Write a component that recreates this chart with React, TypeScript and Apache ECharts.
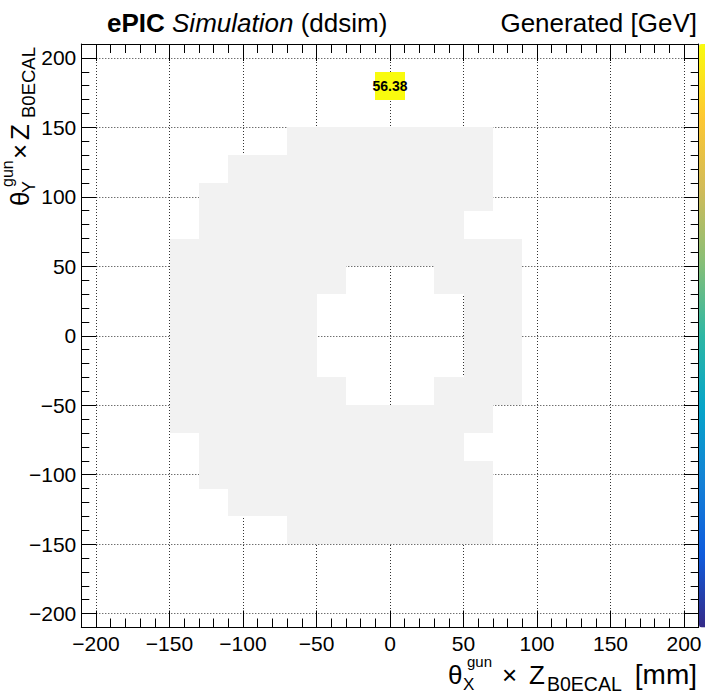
import { useEffect, useRef } from "react";
import * as echarts from "echarts";

// ---------- data ----------
const AXIS_MIN = -210;
const AXIS_MAX = 210;
const BIN_WIDTH = 20;

const majorTicks = [-200, -150, -100, -50, 0, 50, 100, 150, 200];
const minorTicks = [
  -190, -180, -170, -160, -140, -130, -120, -110, -90, -80, -70, -60, -40, -30, -20, -10,
  10, 20, 30, 40, 60, 70, 80, 90, 110, 120, 130, 140, 160, 170, 180, 190,
];

// grey (filled) bins: row centre (y) and the x centres of the filled bins in that row
const rowCenters = [140, 120, 100, 80, 60, 40, 20, 0, -20, -40, -60, -80, -100, -120, -140];
const rowCells = [
  [-60, -40, -20, 0, 20, 40, 60],
  [-100, -80, -60, -40, -20, 0, 20, 40, 60],
  [-120, -100, -80, -60, -40, -20, 0, 20, 40, 60],
  [-120, -100, -80, -60, -40, -20, 0, 20, 40],
  [-140, -120, -100, -80, -60, -40, -20, 0, 20, 40, 60, 80],
  [-140, -120, -100, -80, -60, -40, 40, 60, 80],
  [-140, -120, -100, -80, -60, 60, 80],
  [-140, -120, -100, -80, -60, 60, 80],
  [-140, -120, -100, -80, -60, 60, 80],
  [-140, -120, -100, -80, -60, -40, 40, 60, 80],
  [-140, -120, -100, -80, -60, -40, -20, 0, 20, 40, 60],
  [-120, -100, -80, -60, -40, -20, 0, 20, 40],
  [-120, -100, -80, -60, -40, -20, 0, 20, 40, 60],
  [-100, -80, -60, -40, -20, 0, 20, 40, 60],
  [-60, -40, -20, 0, 20, 40, 60],
];

// the single coloured bin [x, y, energy]
const peakX = [0];
const peakY = [180];
const peakValue = [56.38];

const paletteColors = [
  "#352a87", "#0f5cdd", "#1481d6", "#06a4ca", "#2eb7a4",
  "#87bf77", "#d1bb59", "#fec832", "#f9fb0e",
];

const FONT = '"Liberation Sans", Arial, Helvetica, sans-serif';

function minusFmt(v: number) {
  return String(v).replace("-", "\u2212");
}

function txt(text: string, x: number, baseline: number, size: number, extra: any = {}) {
  return {
    type: "text",
    x,
    y: baseline - 0.33 * size,
    silent: true,
    style: {
      text,
      fontSize: size,
      fontFamily: FONT,
      fill: "#000",
      align: extra.align || "left",
      verticalAlign: "middle",
      fontWeight: extra.fontWeight || "normal",
      fontStyle: extra.fontStyle || "normal",
    },
  };
}

export default function App() {
  const ref = useRef<HTMLDivElement>(null);

  useEffect(() => {
    const chart = echarts.init(ref.current!, null, { renderer: "svg" });

    const greyData: number[][] = [];
    rowCenters.forEach((y, i) => {
      rowCells[i].forEach((x) => greyData.push([x, y]));
    });
    const peakData = peakX.map((x, i) => [x, peakY[i], peakValue[i]]);

    const cellRect = (api: any) => {
      const x = api.value(0);
      const y = api.value(1);
      const p1 = api.coord([x - BIN_WIDTH / 2, y + BIN_WIDTH / 2]);
      const p2 = api.coord([x + BIN_WIDTH / 2, y - BIN_WIDTH / 2]);
      const x0 = Math.round(p1[0]);
      const y0 = Math.round(p1[1]);
      return { x: x0, y: y0, width: Math.round(p2[0]) - x0, height: Math.round(p2[1]) - y0 };
    };

    const axisCommon = {
      type: "value",
      min: AXIS_MIN,
      max: AXIS_MAX,
      axisLine: { show: true, onZero: false, lineStyle: { color: "#000", width: 1 } },
      splitLine: { show: false },
      axisLabel: { show: false },
      minorTick: { show: false },
      minorSplitLine: { show: false },
    };

    const majorAxis = (position: string, labels: boolean, tickLen: number, margin: number) => ({
      ...axisCommon,
      position,
      axisTick: {
        show: true,
        inside: true,
        length: tickLen,
        customValues: majorTicks,
        lineStyle: { color: "#000", width: 1 },
      },
      axisLabel: labels
        ? {
            show: true,
            customValues: majorTicks,
            formatter: minusFmt,
            fontSize: 21,
            fontFamily: FONT,
            color: "#000",
            margin,
          }
        : { show: false },
      splitLine: labels
        ? { show: true, lineStyle: { color: "#333", width: 1, type: [1, 2] } }
        : { show: false },
    });

    const minorAxis = (position: string, tickLen: number) => ({
      ...axisCommon,
      position,
      axisLine: { show: false, onZero: false },
      axisTick: {
        show: true,
        inside: true,
        length: tickLen,
        customValues: minorTicks,
        lineStyle: { color: "#000", width: 1 },
      },
    });

    const option: any = {
      animation: false,
      backgroundColor: "#fff",
      grid: { left: 81.3, right: 6.3, top: 44, bottom: 66.5, containLabel: false },
      xAxis: [
        majorAxis("bottom", true, 17, 5),
        minorAxis("bottom", 9),
        majorAxis("top", false, 17, 0),
        minorAxis("top", 9),
      ],
      yAxis: [
        majorAxis("left", true, 15, 5),
        minorAxis("left", 8),
        majorAxis("right", false, 15, 0),
        minorAxis("right", 8),
      ],
      visualMap: {
        type: "continuous",
        min: 0,
        max: peakValue[0],
        dimension: 2,
        seriesIndex: 1,
        calculable: false,
        orient: "vertical",
        left: 699,
        top: 44,
        itemWidth: 30,
        itemHeight: 583.5,
        padding: 0,
        text: null,
        showLabel: false,
        hoverLink: false,
        inRange: { color: paletteColors },
      },
      series: [
        {
          type: "custom",
          xAxisIndex: 0,
          yAxisIndex: 0,
          silent: true,
          data: greyData,
          encode: { x: 0, y: 1 },
          renderItem: (_p: any, api: any) => ({
            type: "rect",
            shape: cellRect(api),
            style: { fill: "#f2f2f2" },
          }),
        },
        {
          type: "custom",
          xAxisIndex: 0,
          yAxisIndex: 0,
          silent: true,
          data: peakData,
          encode: { x: 0, y: 1 },
          renderItem: (_p: any, api: any) => ({
            type: "rect",
            shape: cellRect(api),
            style: { fill: api.visual("color") },
            textContent: {
              style: {
                text: Number(api.value(2)).toFixed(2),
                fill: "#000",
                fontSize: 14,
                fontWeight: "bold",
                fontFamily: FONT,
              },
            },
            textConfig: { position: "inside" },
          }),
        },
      ],
      graphic: [
        {
          type: "text",
          x: 107,
          y: 22.9,
          silent: true,
          style: {
            text: "{b|ePIC} {i|Simulation} (ddsim)",
            fontSize: 26,
            fontFamily: FONT,
            fill: "#000",
            align: "left",
            verticalAlign: "middle",
            rich: {
              b: { fontWeight: "bold", fontSize: 26, fontFamily: FONT, fill: "#000" },
              i: { fontStyle: "italic", fontSize: 26, fontFamily: FONT, fill: "#000" },
            },
          },
        },
        txt("Generated [GeV]", 697, 31.5, 26, { align: "right" }),
        {
          type: "group",
          x: 448,
          y: 684,
          silent: true,
          children: [
            txt("\u03b8", 0, 0, 26),
            txt("gun", 19, -18, 15),
            txt("X", 15, 6.5, 17),
            txt("\u00d7", 54, 0, 26),
            txt("Z", 81, 0, 26),
            txt("B0ECAL", 99, 6, 19.5),
            txt("[mm]", 249, 0, 28, { align: "right" }),
          ],
        },
        {
          type: "group",
          x: 29,
          y: 206,
          rotation: Math.PI / 2,
          silent: true,
          children: [
            txt("\u03b8", 0, 0, 26),
            txt("gun", 19, -16, 16),
            txt("Y", 13, 6, 18),
            txt("\u00d7", 47, 0, 26),
            txt("Z", 66, 0, 26),
            txt("B0ECAL", 88, 6, 18.5),
          ],
        },
      ],
    };

    chart.setOption(option);
    return () => chart.dispose();
  }, []);

  return (
    <div
      ref={ref}
      style={{
        position: "fixed",
        left: 0,
        top: 0,
        width: 705,
        height: 694,
        overflow: "hidden",
        background: "#fff",
      }}
    />
  );
}
